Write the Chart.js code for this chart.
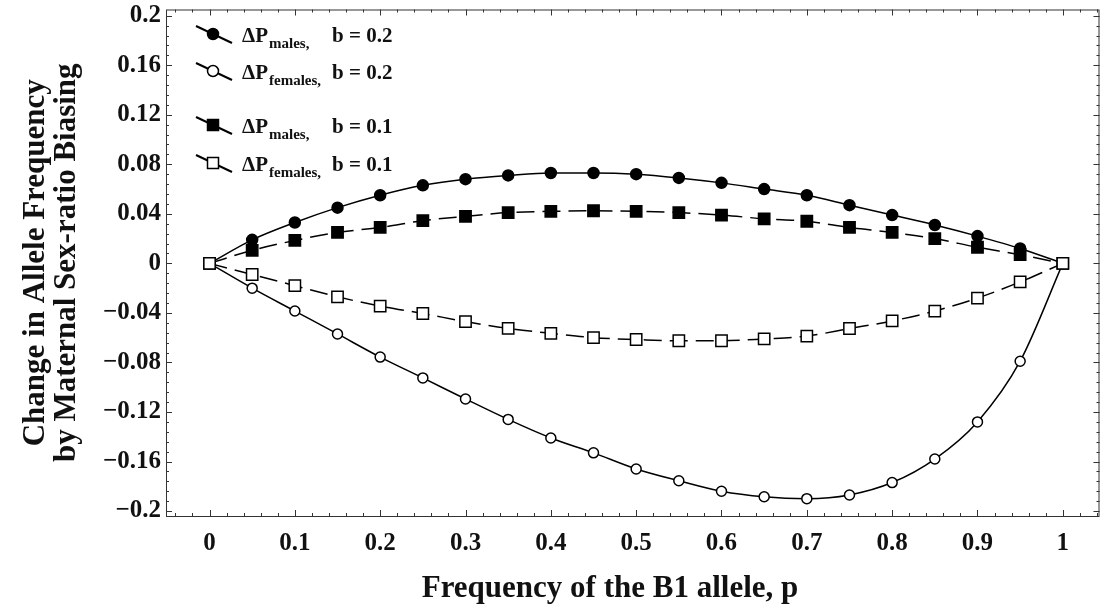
<!DOCTYPE html>
<html>
<head>
<meta charset="utf-8">
<script src="https://cdn.jsdelivr.net/npm/chart.js@4/dist/chart.umd.min.js"></script>
<style>
  body { margin: 0; background: #fff; }
  #wrap { width: 1109px; height: 609px; }
</style>
</head>
<body>
<div id="wrap"><canvas id="allele" width="1109" height="609"></canvas></div>
<script>
// frequency of B1 allele
var pValues = [0, 0.05, 0.1, 0.15, 0.2, 0.25, 0.3, 0.35, 0.4, 0.45, 0.5, 0.55, 0.6, 0.65, 0.7, 0.75, 0.8, 0.85, 0.9, 0.95, 1];

// b = 0.2
var malesB02 = [0, 0.019, 0.033, 0.045, 0.055, 0.063, 0.068, 0.071, 0.073, 0.073, 0.072, 0.069, 0.065, 0.060, 0.055, 0.047, 0.039, 0.031, 0.022, 0.012, 0];
var femalesB02 = [0, -0.020, -0.0385, -0.057, -0.0757, -0.0925, -0.1095, -0.126, -0.141, -0.153, -0.166, -0.1755, -0.184, -0.1885, -0.190, -0.187, -0.177, -0.158, -0.128, -0.079, 0];

// b = 0.1
var malesB01 = [0, 0.0105, 0.0185, 0.025, 0.029, 0.0345, 0.038, 0.041, 0.042, 0.0425, 0.042, 0.041, 0.039, 0.036, 0.034, 0.029, 0.025, 0.020, 0.013, 0.007, 0];
var femalesB01 = [0, -0.009, -0.018, -0.027, -0.0345, -0.0405, -0.047, -0.0525, -0.0565, -0.060, -0.0615, -0.0625, -0.0625, -0.061, -0.0587, -0.0526, -0.0465, -0.0385, -0.028, -0.015, 0];

var legendSubs = ['males,', 'females,', 'males,', 'females,'];
var legendB = ['0.2', '0.2', '0.1', '0.1'];

var serif = '"Liberation Serif", "Times New Roman", serif';

function toPoints(ys) {
    return pValues.map(function (p, i) { return { x: p, y: ys[i] }; });
}

function fmtY(v) {
    var s = String(Math.round(v * 100) / 100);
    return s.replace('-', '\u2212');
}

// frame with inward major/minor ticks, like the original plot
var frameTicks = {
    id: 'frameTicks',
    beforeDatasetsDraw: function (chart) {
        var ctx = chart.ctx, a = chart.chartArea;
        var xs = chart.scales.x, ys = chart.scales.y;
        ctx.save();
        ctx.strokeStyle = '#333';
        ctx.lineWidth = 1;
        ctx.strokeRect(a.left + 0.5, a.top + 0.5, a.right - a.left - 1, a.bottom - a.top);
        ctx.beginPath();
        for (var i = -2; i <= 52; i++) {
            var v = i * 0.02;
            var px = Math.round(xs.getPixelForValue(v)) + 0.5;
            if (px < a.left + 2 || px > a.right - 2) continue;
            var len = (i % 5 === 0) ? 6 : 3;
            ctx.moveTo(px, a.bottom); ctx.lineTo(px, a.bottom - len);
            ctx.moveTo(px, a.top); ctx.lineTo(px, a.top + len);
        }
        for (var j = -25; j <= 25; j++) {
            var w = j * 0.008;
            var py = Math.round(ys.getPixelForValue(w)) + 0.5;
            if (py < a.top + 2 || py > a.bottom - 2) continue;
            var len2 = (j % 5 === 0) ? 6 : 3;
            ctx.moveTo(a.left, py); ctx.lineTo(a.left + len2, py);
            ctx.moveTo(a.right, py); ctx.lineTo(a.right - len2, py);
        }
        ctx.stroke();
        ctx.restore();
    },
    afterDraw: function (chart) {
        var ctx = chart.ctx;
        ctx.save();
        // x axis title
        ctx.fillStyle = '#111';
        ctx.font = 'bold 31px ' + serif;
        ctx.textAlign = 'center';
        ctx.textBaseline = 'alphabetic';
        ctx.fillText('Frequency of the B1 allele, p', 610, 597);

        // legend
        var rowsY = [34, 71, 125, 163];
        var styles = ['circle', 'circle', 'rect', 'rect'];
        var filled = [true, false, true, false];
        for (var k = 0; k < 4; k++) {
            var cy = rowsY[k];
            ctx.strokeStyle = '#000';
            ctx.lineWidth = 2;
            ctx.beginPath();
            ctx.moveTo(196, cy - 8);
            ctx.lineTo(232, cy + 9);
            ctx.stroke();
            ctx.fillStyle = filled[k] ? '#000' : '#fff';
            ctx.lineWidth = 1.5;
            ctx.beginPath();
            if (styles[k] === 'circle') {
                ctx.arc(213, cy, 5.5, 0, Math.PI * 2);
            } else {
                ctx.rect(207.5, cy - 5.5, 11, 11);
            }
            ctx.fill();
            ctx.stroke();

            ctx.fillStyle = '#111';
            ctx.textAlign = 'left';
            ctx.font = 'bold 21px ' + serif;
            ctx.fillText('\u0394P', 242, cy + 8);
            var wdp = ctx.measureText('\u0394P').width;
            ctx.font = 'bold 15px ' + serif;
            ctx.fillText(legendSubs[k], 242 + wdp + 1, cy + 14);
            ctx.font = 'bold 21px ' + serif;
            ctx.fillText('b = ' + legendB[k], 332, cy + 8);
        }
        ctx.restore();
    }
};

var lineBase = {
    borderColor: '#000',
    borderWidth: 1.5,
    pointBorderColor: '#000',
    pointBorderWidth: 1.5,
    fill: false,
    cubicInterpolationMode: 'monotone'
};

var datasets = [
    Object.assign({}, lineBase, {
        label: 'females b=0.1', data: toPoints(femalesB01), order: 0,
        borderDash: [18, 8], pointStyle: 'rect', pointRadius: 8, pointBackgroundColor: '#fff'
    }),
    Object.assign({}, lineBase, {
        label: 'males b=0.1', data: toPoints(malesB01), order: 2,
        borderDash: [18, 8], pointStyle: 'rect', pointRadius: 8, pointBackgroundColor: '#000'
    }),
    Object.assign({}, lineBase, {
        label: 'males b=0.2', data: toPoints(malesB02), order: 1,
        pointStyle: 'circle', pointRadius: 5.5, pointBackgroundColor: '#000'
    }),
    Object.assign({}, lineBase, {
        label: 'females b=0.2', data: toPoints(femalesB02), order: 3,
        pointStyle: 'circle', pointRadius: 5, pointBackgroundColor: '#fff'
    })
];

var ctxA = document.getElementById('allele').getContext('2d');
var alleleChart = new Chart(ctxA, {
    type: 'line',
    data: { datasets: datasets },
    options: {
        responsive: false,
        animation: false,
        devicePixelRatio: 1,
        layout: { padding: { left: 0, right: 2, top: 8, bottom: 0 } },
        plugins: { legend: { display: false }, tooltip: { enabled: false } },
        scales: {
            x: {
                type: 'linear',
                min: -0.051, max: 1.043,
                grid: { display: false, drawTicks: false },
                border: { display: false },
                ticks: {
                    stepSize: 0.1, includeBounds: false, autoSkip: false, maxRotation: 0,
                    padding: 13, color: '#111',
                    font: { family: serif, size: 25, weight: 'bold' },
                    callback: function (v) { return String(Math.round(v * 10) / 10); }
                },
                afterFit: function (s) { s.height = 93; s.paddingLeft = 0; s.paddingRight = 0; }
            },
            y: {
                type: 'linear',
                min: -0.204, max: 0.205,
                grid: { display: false, drawTicks: false },
                border: { display: false },
                ticks: {
                    stepSize: 0.04, includeBounds: false, autoSkip: false,
                    padding: 5, color: '#111',
                    font: { family: serif, size: 25, weight: 'bold' },
                    callback: fmtY
                },
                title: {
                    display: true,
                    text: ['Change in Allele Frequency', 'by Maternal Sex-ratio Biasing'],
                    color: '#111',
                    font: { family: serif, size: 31, weight: 'bold', lineHeight: 1.0 },
                    padding: { top: 20, bottom: 0 }
                },
                afterFit: function (s) { s.width = 166; s.paddingTop = 0; s.paddingBottom = 0; }
            }
        }
    },
    plugins: [frameTicks]
});
</script>
</body>
</html>
